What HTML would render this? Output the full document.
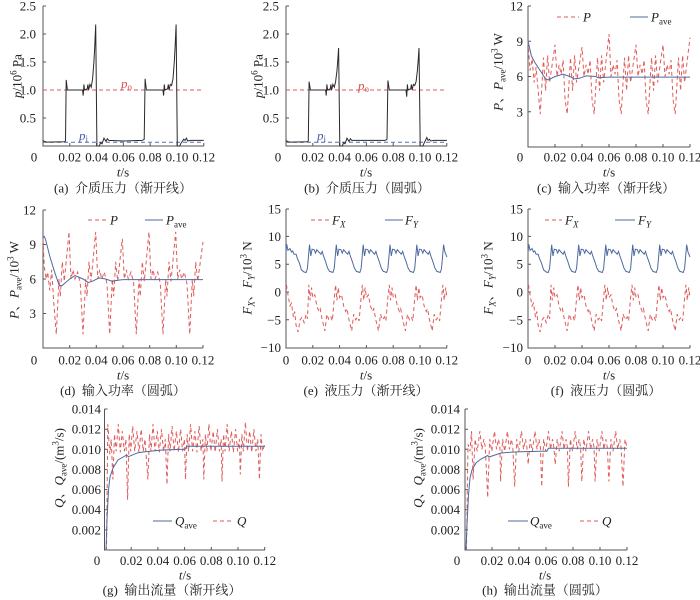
<!DOCTYPE html>
<html><head><meta charset="utf-8"><style>
html,body{margin:0;padding:0;background:#fff;}
svg{display:block}
text{font-family:"Liberation Serif","Noto Serif CJK SC",serif;font-size:13px;fill:#222}
.ax{stroke:#555;stroke-width:1;fill:none}
.r{stroke:#e05a5a;stroke-width:1;fill:none;stroke-dasharray:4 3}
.b{stroke:#4d6a9e;stroke-width:1;fill:none}
.k{stroke:#2a2a2a;stroke-width:1;fill:none}
.it{font-style:italic}
</style></head><body>
<svg width="700" height="600" viewBox="0 0 700 600" xmlns="http://www.w3.org/2000/svg">

<!-- ===== (a) ===== -->
<path class="ax" d="M43,6V146H204M43,6h3M43,34h3M43,62h3M43,90h3M43,118h3M69.8,146v-3M96.6,146v-3M123.4,146v-3M150.2,146v-3M177,146v-3M203.8,146v-3"/>
<path class="r" d="M43,90H204"/>
<path d="M43,142.3H204" style="stroke:#5a6cb0;stroke-width:1;fill:none;stroke-dasharray:4 3"/>
<polyline class="k" points="43,140.4 44.3,141.5 47,142.1 64.4,141.8 65.5,141 66.2,79.9 67.4,90 82.5,90 83.2,95.6 83.9,84.4 84.5,90 87.2,88.9 87.9,84.4 88.6,90 89.9,84.4 91.2,87.2 92.6,78.8 93.9,62 94.8,45.2 95.7,24.5 96.9,146 99.3,146 100.6,142.6 102,143.8 104,138.2 106,141.5 107.3,138.7 108.7,140.4 123.4,141 142.2,140.4 144.2,139.3 145.1,78.8 146.4,90 162.9,90 163.6,95.6 164.3,84.4 164.9,90 167.6,88.9 168.3,84.4 169,90 170.3,84.4 171.6,85.5 173,78.8 174.3,62 175.2,45.2 176.1,24.5 177.3,146 179.7,146 181,143.2 183.7,139.3 185,140.4 186.4,138.2 187.7,141 190.4,140.4 203.8,140.4"/>
<text x="121" y="88" style="fill:#d85050"><tspan class="it">p</tspan><tspan font-size="9" dy="2">o</tspan></text>
<text x="79" y="140" style="fill:#4a5aa8"><tspan class="it">p</tspan><tspan font-size="9" dy="2">i</tspan></text>
<g text-anchor="end"><text x="36" y="10.5">2.5</text><text x="36" y="38.5">2.0</text><text x="36" y="66.5">1.5</text><text x="36" y="94.5">1.0</text><text x="36" y="122.5">0.5</text></g>
<g text-anchor="middle"><text x="34" y="161.5">0</text><text x="69.8" y="161.5">0.02</text><text x="96.6" y="161.5">0.04</text><text x="123.4" y="161.5">0.06</text><text x="150.2" y="161.5">0.08</text><text x="177" y="161.5">0.10</text><text x="203.8" y="161.5">0.12</text>
<text x="123" y="176.5"><tspan class="it">t</tspan>/s</text>
<text x="123" y="192.5">(a)&#160;&#160;介质压力（渐开线）</text></g>
<text transform="translate(21.5,76) rotate(-90)" text-anchor="middle"><tspan class="it">p</tspan>/10<tspan dy="-5" font-size="9">6</tspan><tspan dy="5"> Pa</tspan></text>

<!-- ===== (b) ===== -->
<path class="ax" d="M286,6V146H447M286,6h3M286,34h3M286,62h3M286,90h3M286,118h3M312.8,146v-3M339.6,146v-3M366.4,146v-3M393.2,146v-3M420,146v-3M446.8,146v-3"/>
<path class="r" d="M286,90H447"/>
<path d="M286,142.3H447" style="stroke:#5a6cb0;stroke-width:1;fill:none;stroke-dasharray:4 3"/>
<polyline class="k" points="286,140.4 287.3,141.5 290,142.1 307.5,141.8 308.3,141 309.1,81.6 310.4,90 325.6,90 326.2,95.6 326.9,84.4 327.6,90 330.3,88.9 330.9,84.4 331.6,90 332.9,84.4 334.3,87.2 335.6,81.6 337,70.4 337.8,60 338.6,48 339.8,146 342.3,146 343.7,142.6 345,143.8 347,138.2 349,141.5 350.4,138.7 351.7,140.4 385.2,140.4 387,139.3 387.9,80.5 389.3,90 406,90 406.7,96.7 407.4,84.4 408,90 410.7,88.9 411.4,84.4 412.1,90 413.4,84.4 414.7,85.5 416.1,81.6 417.4,70.4 418.2,60 419,48 420.2,146 422.8,146 424.1,143.2 426.8,137.6 428.1,140.4 429.5,139.3 430.8,141 433.5,140.4 446.9,140.4"/>
<text x="358" y="90" style="fill:#d85050"><tspan class="it">p</tspan><tspan font-size="9" dy="2">o</tspan></text>
<text x="317" y="140" style="fill:#4a5aa8"><tspan class="it">p</tspan><tspan font-size="9" dy="2">i</tspan></text>
<g text-anchor="end"><text x="279" y="10.5">2.5</text><text x="279" y="38.5">2.0</text><text x="279" y="66.5">1.5</text><text x="279" y="94.5">1.0</text><text x="279" y="122.5">0.5</text></g>
<g text-anchor="middle"><text x="278" y="161.5">0</text><text x="312.8" y="161.5">0.02</text><text x="339.6" y="161.5">0.04</text><text x="366.4" y="161.5">0.06</text><text x="393.2" y="161.5">0.08</text><text x="420" y="161.5">0.10</text><text x="446.8" y="161.5">0.12</text>
<text x="366" y="176.5"><tspan class="it">t</tspan>/s</text>
<text x="367" y="192.5">(b)&#160;&#160;介质压力（圆弧）</text></g>
<text transform="translate(262.5,76) rotate(-90)" text-anchor="middle"><tspan class="it">p</tspan>/10<tspan dy="-5" font-size="9">6</tspan><tspan dy="5"> Pa</tspan></text>

<!-- ===== (c) ===== -->
<path class="ax" d="M528,6V147H690M528,6h3M528,41.25h3M528,76.5h3M528,111.75h3M555,147v-3M582,147v-3M609,147v-3M636,147v-3M663,147v-3M690,147v-3"/>
<polyline class="r" points="528,41.3 530,70.6 532.1,58.9 534.1,82.4 536.1,67.1 540.2,114.1 543.5,57.7 545.6,90.6 547.6,55.4 549.6,82.4 555,44.8 557,76.5 559.1,64.8 561.1,74.2 563.1,60.1 565.1,100 567.2,114.1 570.5,57.7 572.6,90.6 574.6,55.4 576.6,82.4 582,47.1 584,76.5 586.1,64.8 588.1,74.2 590.1,60.1 592.1,100 594.2,114.1 597.5,57.7 599.6,90.6 601.6,55.4 603.6,82.4 609,34.2 611,76.5 613.1,64.8 615.1,74.2 617.1,60.1 619.1,100 621.2,114.1 624.5,57.7 626.6,90.6 628.6,55.4 630.6,82.4 636,44.8 638,76.5 640.1,64.8 642.1,74.2 644.1,60.1 646.1,100 648.2,114.1 651.5,57.7 653.6,90.6 655.6,55.4 657.6,82.4 663,44.8 665,76.5 667.1,64.8 669.1,74.2 671.1,60.1 673.1,100 675.2,114.1 678.5,57.7 680.6,90.6 682.6,55.4 684.6,82.4 690,37.7"/>
<polyline class="b" points="528,41.3 529.4,47.1 531.4,56 534.8,62.4 540.2,70.6 545.6,78.9 548.3,80 555,76.5 563.1,74.2 569.9,76.5 574,78.9 579.3,78.3 586.1,75.9 595.5,76.5 598.2,77.7 609,77.1 690,77.1"/>
<path class="r" d="M557,17H579"/><text x="583" y="21.5" class="it">P</text>
<path class="b" d="M630,17H648"/><text x="651" y="21.5"><tspan class="it">P</tspan><tspan font-size="9" dy="3">ave</tspan></text>
<g text-anchor="end"><text x="523" y="10.5">12</text><text x="523" y="45.75">9</text><text x="523" y="81">6</text><text x="523" y="116.25">3</text></g>
<g text-anchor="middle"><text x="520" y="161.5">0</text><text x="555" y="161.5">0.02</text><text x="582" y="161.5">0.04</text><text x="609" y="161.5">0.06</text><text x="636" y="161.5">0.08</text><text x="663" y="161.5">0.10</text><text x="690" y="161.5">0.12</text>
<text x="609" y="176.5"><tspan class="it">t</tspan>/s</text>
<text x="606" y="192.5">(c)&#160;&#160;输入功率（渐开线）</text></g>
<text transform="translate(502.5,72) rotate(-90)" text-anchor="middle"><tspan class="it">P</tspan>、<tspan class="it">P</tspan><tspan dy="3" font-size="9">ave</tspan><tspan dy="-3">/10</tspan><tspan dy="-5" font-size="9">3</tspan><tspan dy="5"> W</tspan></text>

<!-- ===== (d) ===== -->
<path class="ax" d="M43,210V348H203M43,210h3M43,244.5h3M43,279h3M43,313.5h3M69.7,348v-3M96.3,348v-3M123,348v-3M149.7,348v-3M176.3,348v-3M203,348v-3"/>
<polyline class="r" points="43,238.8 44.3,267.5 46.3,279 47.7,272.1 49.7,290.5 51.7,269.8 53.7,302 56.3,334.2 59,279 60.3,296.3 62.3,261.8 64.3,281.3 69,231.9 71,279 73,269.8 75,279 77.7,272.1 80.3,283.6 83,334.2 85.7,279 87,296.3 89,261.8 91,281.3 95.7,231.9 97.7,279 99.7,269.8 101.7,279 104.3,272.1 107,283.6 109.7,334.2 112.3,279 113.7,296.3 115.7,261.8 117.7,281.3 122.3,238.8 124.3,279 126.3,269.8 128.3,279 131,272.1 133.7,283.6 136.3,334.2 139,279 140.3,296.3 142.3,261.8 144.3,281.3 149,231.9 151,279 153,269.8 155,279 157.7,272.1 160.3,283.6 163,334.2 165.7,279 167,296.3 169,261.8 171,281.3 175.7,231.9 177.7,279 179.7,269.8 181.7,279 184.3,272.1 187,283.6 189.7,334.2 192.3,279 193.7,296.3 195.7,261.8 197.7,281.3 203,242"/>
<polyline class="b" points="43,237.6 44.3,236.5 45.7,240 49.7,256 55,273.3 59,284.8 61.7,285.9 69.7,279 75,275.6 83,279 88.3,282.5 92.3,281.3 99,277.9 105.7,279 112.3,281.3 117.7,280.2 123,279.6 203,279.6"/>
<path class="r" d="M88,220H108"/><text x="110" y="224.5" class="it">P</text>
<path class="b" d="M145,220H163"/><text x="166" y="224.5"><tspan class="it">P</tspan><tspan font-size="9" dy="3">ave</tspan></text>
<g text-anchor="end"><text x="36" y="214.5">12</text><text x="36" y="249">9</text><text x="36" y="283.5">6</text><text x="36" y="318">3</text></g>
<g text-anchor="middle"><text x="34" y="364.5">0</text><text x="69.7" y="364.5">0.02</text><text x="96.3" y="364.5">0.04</text><text x="123" y="364.5">0.06</text><text x="149.7" y="364.5">0.08</text><text x="176.3" y="364.5">0.10</text><text x="203" y="364.5">0.12</text>
<text x="123" y="379.5"><tspan class="it">t</tspan>/s</text>
<text x="123" y="395">(d)&#160;&#160;输入功率（圆弧）</text></g>
<text transform="translate(18.5,280) rotate(-90)" text-anchor="middle"><tspan class="it">P</tspan>、<tspan class="it">P</tspan><tspan dy="3" font-size="9">ave</tspan><tspan dy="-3">/10</tspan><tspan dy="-5" font-size="9">3</tspan><tspan dy="5"> W</tspan></text>

<!-- ===== (e) ===== -->
<path class="ax" d="M286,209V348H447M286,209h3M286,236.4h3M286,264.2h3M286,292h3M286,319.8h3M312.8,348v-3M339.6,348v-3M366.4,348v-3M393.2,348v-3M420,348v-3M446.8,348v-3"/>
<g id="eb">
<polyline class="b" points="286,253.1 286.7,244.2 288,250.3 290,248.6 291.4,252 292.7,250.9 294,254.2 296.1,254.2 297.4,258.6 299.4,263.1 301.4,269.8 304.1,272 306.1,272.5 307.4,268.6 309.5,244.7 310.8,255.9 312.1,249.2 314.1,249.7 315.5,253.1 316.8,249.7 318.8,252 320.9,254.2 322.2,251.4 323.5,255.9 325.5,261.4 327.6,268.1 329.6,271.4 331.6,272 332.9,272.5 334.2,268.6 336.3,244.7 337.6,255.9 338.9,249.2 340.9,249.7 342.3,253.1 343.6,249.7 345.6,252 347.7,254.2 349,251.4 350.3,255.9 352.3,261.4 354.4,268.1 356.4,271.4 358.4,272 359.8,272.5 361.1,268.6 363.2,244.7 364.5,255.9 365.8,249.2 367.8,249.7 369.2,253.1 370.5,249.7 372.5,252 374.6,254.2 375.9,251.4 377.2,255.9 379.2,261.4 381.3,268.1 383.3,271.4 385.3,272 386.6,272.5 387.9,268.6 390,244.7 391.3,255.9 392.6,249.2 394.6,249.7 396,253.1 397.3,249.7 399.3,252 401.4,254.2 402.7,251.4 404,255.9 406,261.4 408.1,268.1 410.1,271.4 412.1,272 413.4,272.5 414.7,268.6 416.8,244.7 418.1,255.9 419.4,249.2 421.4,249.7 422.8,253.1 424.1,249.7 426.1,252 428.2,254.2 429.5,251.4 430.8,255.9 432.8,261.4 434.9,268.1 436.9,271.4 438.9,272 440.2,272.5 441.5,268.6 443.6,244.7 444.9,252 446.9,257"/>
<polyline class="r" points="286,288.1 286.7,286.4 288,294.8 290,305.9 291.4,303.1 293.4,317 294.7,311.5 296.1,325.4 298.1,332 300.1,319.8 302.1,317 304.1,322.6 306.1,314.2 307.5,318.7 308.8,284.8 310.1,300.3 311.5,287.6 312.8,297.6 314.8,294.8 316.8,305.9 318.9,311.5 320.2,308.7 322.2,319.8 324.9,330.9 326.9,314.2 328.9,319.8 330.9,317 332.3,320.9 334.3,297.6 335.6,284.8 336.9,300.3 338.3,287.6 339.6,297.6 341.6,294.8 343.6,305.9 345.7,311.5 347,308.7 349,319.8 351.7,330.9 353.7,314.2 355.7,319.8 357.7,317 359.1,320.9 361.1,297.6 362.4,284.8 363.7,300.3 365.1,287.6 366.4,297.6 368.4,294.8 370.4,305.9 372.5,311.5 373.8,308.7 375.8,319.8 378.5,330.9 380.5,314.2 382.5,319.8 384.5,317 385.9,320.9 387.9,297.6 389.3,284.8 390.6,300.3 392,287.6 393.3,297.6 395.3,294.8 397.3,305.9 399.4,311.5 400.7,308.7 402.7,319.8 405.4,330.9 407.4,314.2 409.4,319.8 411.4,317 412.8,320.9 414.8,297.6 416.1,284.8 417.4,300.3 418.8,287.6 420.1,297.6 422.1,294.8 424.1,305.9 426.2,311.5 427.5,308.7 429.5,319.8 432.2,330.9 434.2,314.2 436.2,319.8 438.2,317 439.6,320.9 441.6,297.6 442.9,284.8 444.2,300.3 445.6,287.6 446.9,297.6"/>
</g>
<path class="r" d="M311,220H330"/><text x="332" y="224.5"><tspan class="it">F</tspan><tspan class="it" font-size="9" dy="3">X</tspan></text>
<path class="b" d="M385,220H403"/><text x="405" y="224.5"><tspan class="it">F</tspan><tspan class="it" font-size="9" dy="3">Y</tspan></text>
<g text-anchor="end"><text x="281" y="213.5">15</text><text x="281" y="240.9">10</text><text x="281" y="268.7">5</text><text x="281" y="296.5">0</text><text x="281" y="324.3">−5</text><text x="281" y="352.1">−10</text></g>
<g text-anchor="middle"><text x="286" y="364.5">0</text><text x="312.8" y="364.5">0.02</text><text x="339.6" y="364.5">0.04</text><text x="366.4" y="364.5">0.06</text><text x="393.2" y="364.5">0.08</text><text x="420" y="364.5">0.10</text><text x="446.8" y="364.5">0.12</text>
<text x="366" y="379.5"><tspan class="it">t</tspan>/s</text>
<text x="366" y="395">(e)&#160;&#160;液压力（渐开线）</text></g>
<text transform="translate(251.5,278) rotate(-90)" text-anchor="middle"><tspan class="it">F</tspan><tspan class="it" dy="3" font-size="9">X</tspan><tspan dy="-3">、</tspan><tspan class="it">F</tspan><tspan class="it" dy="3" font-size="9">Y</tspan><tspan dy="-3">/10</tspan><tspan dy="-5" font-size="9">3</tspan><tspan dy="5"> N</tspan></text>

<!-- ===== (f) ===== -->
<path class="ax" d="M528,209V348H690M528,209h3M528,236.4h3M528,264.2h3M528,292h3M528,319.8h3M555,348v-3M582,348v-3M609,348v-3M636,348v-3M663,348v-3M690,348v-3"/>
<use href="#eb" transform="matrix(1.0067,0,0,1,240.1,0)"/>
<path class="r" d="M545,220H562"/><text x="565" y="224.5"><tspan class="it">F</tspan><tspan class="it" font-size="9" dy="3">X</tspan></text>
<path class="b" d="M615,220H635"/><text x="638" y="224.5"><tspan class="it">F</tspan><tspan class="it" font-size="9" dy="3">Y</tspan></text>
<g text-anchor="end"><text x="523" y="213.5">15</text><text x="523" y="240.9">10</text><text x="523" y="268.7">5</text><text x="523" y="296.5">0</text><text x="523" y="324.3">−5</text><text x="523" y="352.1">−10</text></g>
<g text-anchor="middle"><text x="528" y="364.5">0</text><text x="555" y="364.5">0.02</text><text x="582" y="364.5">0.04</text><text x="609" y="364.5">0.06</text><text x="636" y="364.5">0.08</text><text x="663" y="364.5">0.10</text><text x="690" y="364.5">0.12</text>
<text x="609" y="379.5"><tspan class="it">t</tspan>/s</text>
<text x="606" y="395">(f)&#160;&#160;液压力（圆弧）</text></g>
<text transform="translate(492.5,278) rotate(-90)" text-anchor="middle"><tspan class="it">F</tspan><tspan class="it" dy="3" font-size="9">X</tspan><tspan dy="-3">、</tspan><tspan class="it">F</tspan><tspan class="it" dy="3" font-size="9">Y</tspan><tspan dy="-3">/10</tspan><tspan dy="-5" font-size="9">3</tspan><tspan dy="5"> N</tspan></text>

<!-- ===== (g) ===== -->
<path class="ax" d="M104.5,409V550H265M104.5,409h3M104.5,429.2h3M104.5,449.3h3M104.5,469.4h3M104.5,489.6h3M104.5,509.7h3M104.5,529.9h3M131.2,550v-3M157.9,550v-3M184.6,550v-3M211.3,550v-3M238,550v-3M264.7,550v-3"/>
<polyline class="r" points="105.5,550 106.5,550 107.8,424.1 109.8,454.3 111.2,439.2 112.9,479.5 114.5,434.2 116.2,451.3 118.3,424.1 120.3,452.3 122.3,431.2 124.3,451.3 125.9,439.2 127.6,499.7 129.2,434.2 130.7,451.3 132.7,426.1 134.7,451.3 137,431.2 139,452.3 141.2,429.2 143.2,451.3 145,439.2 147.9,479.5 149.5,434.2 151,451.3 153,424.1 155,451.3 157.3,431.2 159.3,452.3 161.5,429.2 163.5,451.3 165.3,439.2 167,484.5 168.6,434.2 170.1,451.3 172.1,426.1 174.1,451.3 176.4,431.2 178.4,452.3 180.6,429.2 182.6,451.3 184.4,439.2 185.5,479.5 187.1,434.2 188.6,451.3 190.6,424.1 192.6,451.3 194.9,431.2 196.9,452.3 199.1,426.1 201.1,451.3 202.9,439.2 203.8,479.5 205.4,434.2 206.9,451.3 208.9,424.1 210.9,451.3 213.2,431.2 215.2,452.3 217.4,429.2 219.4,451.3 221.2,439.2 222,481.5 223.6,434.2 225.1,451.3 227.1,424.1 229.1,451.3 231.4,431.2 233.4,452.3 235.6,429.2 237.6,451.3 239.4,439.2 240.3,474.5 241.9,434.2 243.4,451.3 245.4,422.1 247.4,451.3 249.7,431.2 251.7,452.3 253.9,429.2 255.9,451.3 257.7,439.2 259.4,479.5 261,434.2 262.5,451.3 264.7,444.3"/>
<polyline class="b" points="106,550 107,520 108.5,490 110,477 113,468 118,460 126.7,455 128.3,456.7 138,452.7 145,451.7 162,450 185,449.3 186.7,446.3 265,446.3"/>
<path class="b" d="M153,521H172"/><text x="175" y="525.5"><tspan class="it">Q</tspan><tspan font-size="9" dy="3">ave</tspan></text>
<path class="r" d="M213,521H232"/><text x="237" y="525.5" class="it">Q</text>
<g text-anchor="end"><text x="101" y="413.5">0.014</text><text x="101" y="433.7">0.012</text><text x="101" y="453.8">0.010</text><text x="101" y="473.9">0.008</text><text x="101" y="494.1">0.006</text><text x="101" y="514.2">0.004</text><text x="101" y="534.4">0.002</text></g>
<g text-anchor="middle"><text x="97" y="565">0</text><text x="131.2" y="565">0.02</text><text x="157.9" y="565">0.04</text><text x="184.6" y="565">0.06</text><text x="211.3" y="565">0.08</text><text x="238" y="565">0.10</text><text x="264.7" y="565">0.12</text>
<text x="185" y="579.5"><tspan class="it">t</tspan>/s</text>
<text x="172" y="594.5">(g)&#160;&#160;输出流量（渐开线）</text></g>
<text transform="translate(63.5,468) rotate(-90)" text-anchor="middle"><tspan class="it">Q</tspan>、<tspan class="it">Q</tspan><tspan dy="3" font-size="9">ave</tspan><tspan dy="-3">/(m</tspan><tspan dy="-5" font-size="9">3</tspan><tspan dy="5">/s)</tspan></text>

<!-- ===== (h) ===== -->
<path class="ax" d="M465,409V550H627M465,409h3M465,429.2h3M465,449.3h3M465,469.4h3M465,489.6h3M465,509.7h3M465,529.9h3M492,550v-3M519,550v-3M546,550v-3M573,550v-3M600,550v-3M627,550v-3"/>
<polyline class="r" points="466,550 466.5,550 468,444.3 470,451.3 471.5,431.2 473.1,479.5 475.1,439.2 477.2,451.3 479.9,431.2 481.9,449.3 483.9,439.2 485.3,447.3 487.7,497.6 489.7,439.2 491.8,451.3 494.5,431.2 496.5,449.3 498.5,439.2 499.9,447.3 500.6,481.5 502.6,439.2 504.7,451.3 507.4,431.2 509.4,449.3 511.4,439.2 512.8,447.3 514.7,486.6 516.7,439.2 518.8,451.3 521.5,431.2 523.5,449.3 525.5,439.2 526.9,447.3 528.2,464.4 530.2,439.2 532.3,451.3 535,431.2 537,449.3 539,439.2 540.4,447.3 541.7,486.6 543.7,439.2 545.8,451.3 548.5,431.2 550.5,449.3 552.5,439.2 553.9,447.3 555.2,464.4 557.2,439.2 559.3,451.3 562,431.2 564,449.3 566,439.2 567.4,447.3 568.4,486.6 570.4,439.2 572.5,451.3 575.2,431.2 577.2,449.3 579.2,439.2 580.6,447.3 581.8,481.5 583.8,439.2 585.9,451.3 588.6,431.2 590.6,449.3 592.6,439.2 594,447.3 595.1,481.5 597.1,439.2 599.2,451.3 601.9,431.2 603.9,449.3 605.9,439.2 607.3,447.3 608.9,481.5 610.9,439.2 613,451.3 615.7,431.2 617.7,449.3 619.7,439.2 621.1,447.3 623,486.6 625,439.2 627,447.3"/>
<polyline class="b" points="466,550 467,525 468.5,495 470,478 472,470 476,463 481,459 487.7,455.5 489,457 495,455 501,453 510,452.3 520,451.8 540,451.3 547,451.3 548.3,448.3 627,448.3"/>
<path class="b" d="M508,521H528"/><text x="530" y="525.5"><tspan class="it">Q</tspan><tspan font-size="9" dy="3">ave</tspan></text>
<path class="r" d="M580,521H598"/><text x="602" y="525.5" class="it">Q</text>
<g text-anchor="end"><text x="460" y="413.5">0.014</text><text x="460" y="433.7">0.012</text><text x="460" y="453.8">0.010</text><text x="460" y="473.9">0.008</text><text x="460" y="494.1">0.006</text><text x="460" y="514.2">0.004</text><text x="460" y="534.4">0.002</text></g>
<g text-anchor="middle"><text x="457" y="565">0</text><text x="492" y="565">0.02</text><text x="519" y="565">0.04</text><text x="546" y="565">0.06</text><text x="573" y="565">0.08</text><text x="600" y="565">0.10</text><text x="627" y="565">0.12</text>
<text x="545" y="579.5"><tspan class="it">t</tspan>/s</text>
<text x="545" y="594.5">(h)&#160;&#160;输出流量（圆弧）</text></g>
<text transform="translate(422.5,468) rotate(-90)" text-anchor="middle"><tspan class="it">Q</tspan>、<tspan class="it">Q</tspan><tspan dy="3" font-size="9">ave</tspan><tspan dy="-3">/(m</tspan><tspan dy="-5" font-size="9">3</tspan><tspan dy="5">/s)</tspan></text>

</svg>
</body></html>
